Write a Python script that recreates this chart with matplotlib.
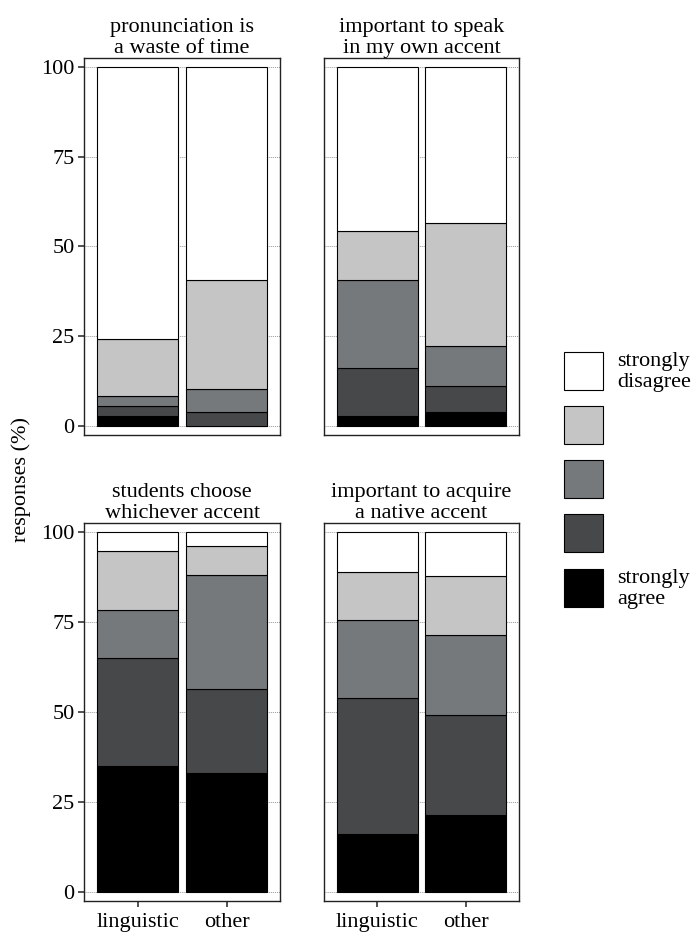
import matplotlib
matplotlib.use("Agg")
import matplotlib.pyplot as plt
from matplotlib.patches import Rectangle
import numpy as np

plt.rcParams['font.family'] = ['Liberation Serif', 'DejaVu Serif']

# data: percent of responses, stacked from "strongly agree" (bottom) to "strongly disagree" (top)
groups = ["linguistic", "other"]
titles = ["pronunciation is\na waste of time",
          "important to speak\nin my own accent",
          "students choose\nwhichever accent",
          "important to acquire\na native accent"]

waste_ling = [2.9, 2.6, 2.8, 16.0, 75.7]
waste_other = [0.0, 3.8, 6.5, 30.2, 59.5]
own_ling = [2.9, 13.3, 24.3, 13.7, 45.8]
own_other = [3.8, 7.4, 11.1, 34.1, 43.6]
choose_ling = [35.1, 29.8, 13.5, 16.3, 5.3]
choose_other = [33.1, 23.4, 31.7, 8.1, 3.7]
native_ling = [16.0, 37.9, 21.7, 13.4, 11.0]
native_other = [21.3, 27.9, 22.1, 16.6, 12.1]

panels = [(waste_ling, waste_other), (own_ling, own_other),
          (choose_ling, choose_other), (native_ling, native_other)]

colors = ["#000000", "#47484a", "#76797b", "#c4c5c4", "#ffffff"]
legend_labels = ["strongly\nagree", "", "", "", "strongly\ndisagree"]

W, H = 693, 933
fig = plt.figure(figsize=(W / 100, H / 100), dpi=100)

# panel boxes in pixels: left, top, right, bottom
boxes = [(84.3, 57.7, 280, 435), (324, 57.7, 519, 435),
         (84.3, 523.3, 280, 900.7), (324, 523.3, 519, 900.7)]

fs = 16
x = np.arange(1, len(groups) + 1)
for i, (vals, box) in enumerate(zip(panels, boxes)):
    l, t, r, b = box
    ax = fig.add_axes([l / W, 1 - b / H, (r - l) / W, (b - t) / H])
    data = np.array(vals).T  # rows: level, cols: group
    bottom = np.zeros(len(groups))
    for k in range(data.shape[0]):
        ax.bar(x, data[k], 0.915, bottom=bottom, color=colors[k],
               edgecolor="black", linewidth=0.8, zorder=2)
        bottom += data[k]
    ax.set_xlim(0.4, 2.6)
    ax.set_ylim(-2.5, 102.5)
    ax.set_yticks([0, 25, 50, 75, 100])
    ax.grid(axis="y", linestyle=(0, (1, 1)), color="#999999", linewidth=0.7, zorder=0)
    for s in ax.spines.values():
        s.set_linewidth(1.0)
        s.set_color("#222222")
    ax.set_title(titles[i], fontsize=fs, linespacing=1.15, pad=3.5)
    ax.tick_params(axis="both", length=4, width=1.2, color="#333333",
                   labelsize=fs, pad=3)
    if i % 2 == 1:
        ax.tick_params(axis="y", left=False, labelleft=False)
    if i < 2:
        ax.tick_params(axis="x", bottom=False, labelbottom=False)
    else:
        ax.set_xticks(x)
        ax.set_xticklabels(groups)
        ax.tick_params(axis="x", length=4, pad=5)

fig.text(21 / W, 1 - 479 / H, "responses (%)", rotation=90, fontsize=fs,
         ha="center", va="center")

# legend drawn as boxes in figure pixel space
lax = fig.add_axes([0, 0, 1, 1])
lax.set_xlim(0, W)
lax.set_ylim(H, 0)
lax.axis("off")
box_tops = [569, 514, 460, 406, 352]
for k in range(len(colors)):
    y0 = box_tops[k]
    lax.add_patch(Rectangle((563.5, y0), 39, 38, facecolor=colors[k],
                            edgecolor="black", linewidth=0.8))
    if legend_labels[k]:
        lax.text(617, y0 + 20, legend_labels[k], fontsize=fs, va="center",
                 ha="left", linespacing=1.1)

fig.savefig("out.png", dpi=100)
